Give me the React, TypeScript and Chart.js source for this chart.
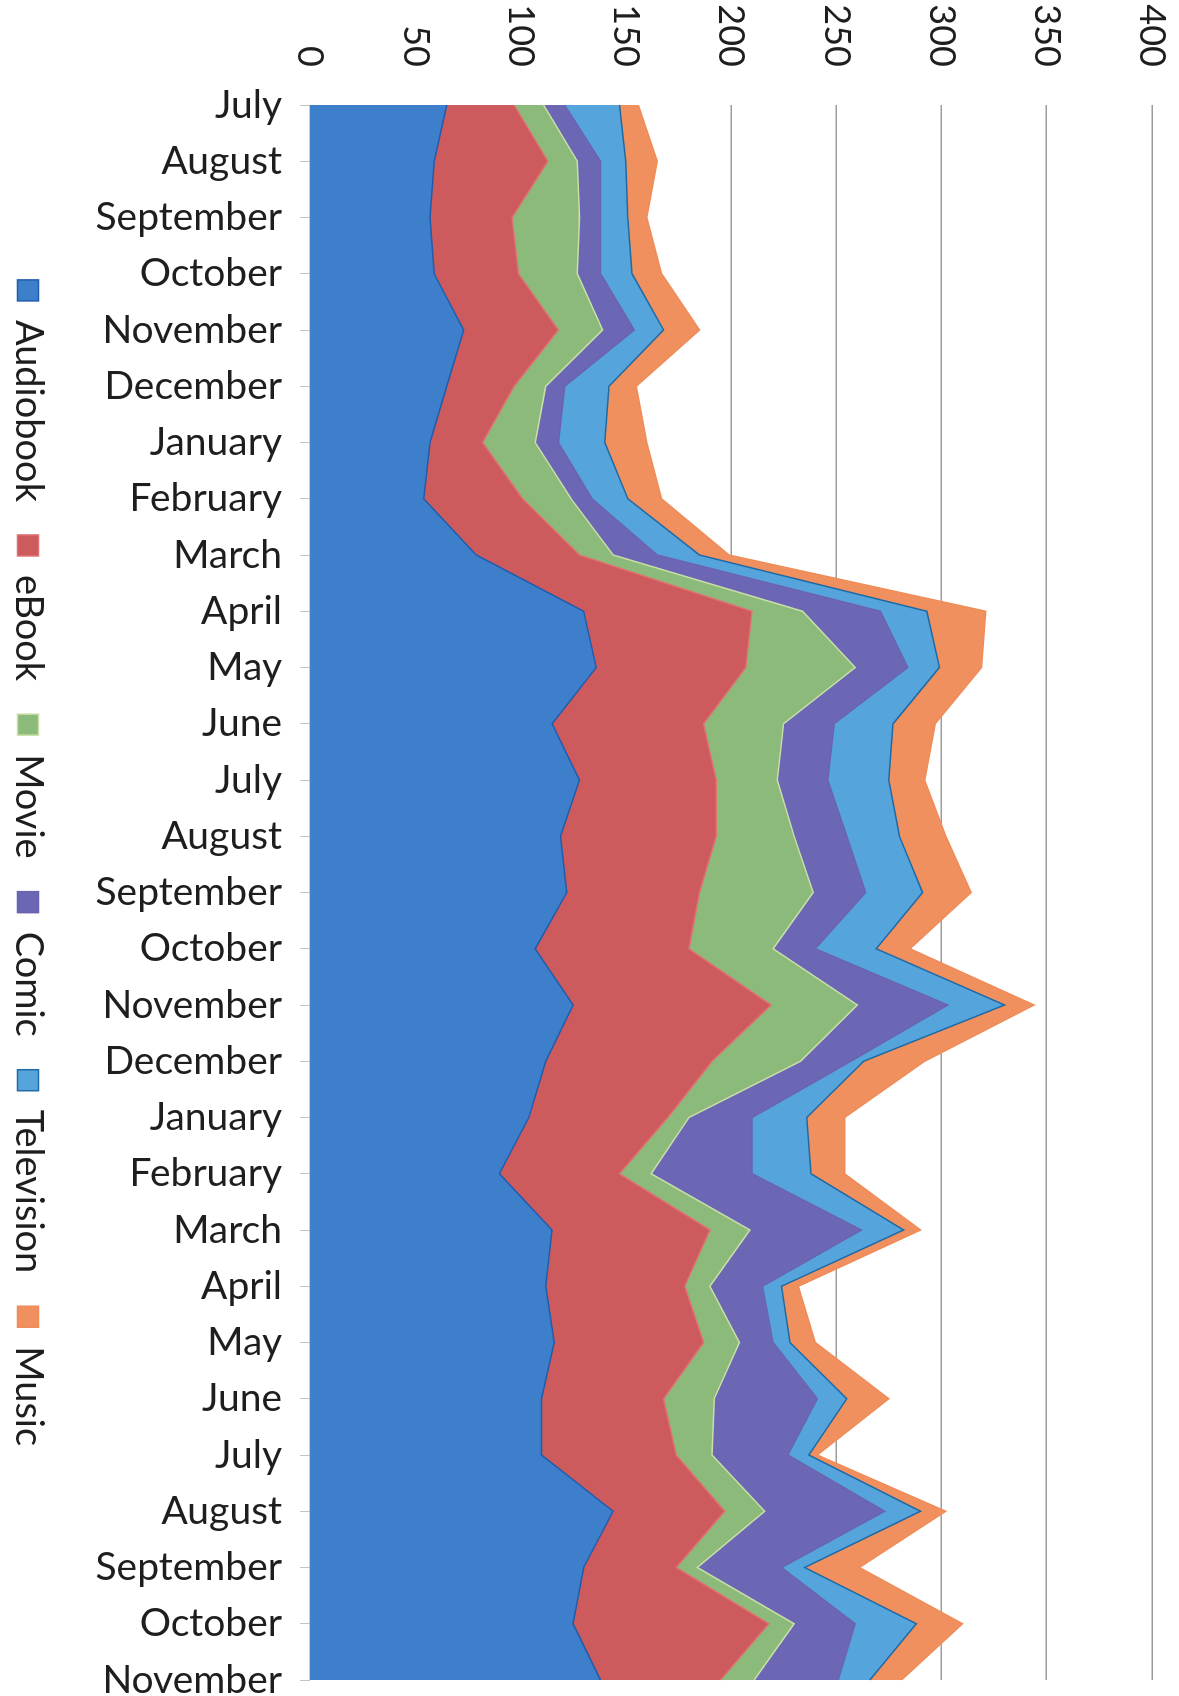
import React, { useEffect, useRef } from 'react';
import { Chart, registerables } from 'chart.js';

Chart.register(...registerables);

const months = [
  'July', 'August', 'September', 'October', 'November', 'December',
  'January', 'February', 'March', 'April', 'May', 'June',
  'July', 'August', 'September', 'October', 'November', 'December',
  'January', 'February', 'March', 'April', 'May', 'June',
  'July', 'August', 'September', 'October', 'November',
];

const audiobook = [65, 59, 57, 59, 73, 65, 57, 54, 79, 130, 136, 115, 128, 119, 122, 107, 125, 112, 104, 90, 115, 112, 116, 110, 110, 144, 130, 125, 138];
const ebook = [32, 54, 39, 40, 45, 32, 25, 47, 49, 80, 71, 72, 65, 74, 63, 73, 94, 79, 66, 57, 75, 66, 71, 58, 64, 53, 44, 93, 57];
const movie = [14, 14, 32, 28, 21, 15, 25, 23, 16, 24, 52, 38, 29, 37, 54, 40, 41, 42, 10, 15, 19, 12, 17, 24, 17, 19, 10, 12, 16];
const comic = [10, 11, 10, 11, 15, 9, 11, 10, 21, 37, 25, 24, 24, 25, 25, 20, 43, 24, 30, 48, 53, 25, 16, 49, 36, 57, 40, 29, 40];
const television = [26, 12, 13, 15, 14, 21, 22, 17, 20, 22, 15, 28, 29, 25, 27, 29, 27, 6, 26, 28, 20, 9, 8, 14, 10, 17, 11, 29, 15];
const music = [9, 15, 9, 14, 17, 13, 20, 16, 14, 28, 20, 20, 17, 22, 23, 16, 14, 29, 18, 16, 8, 8, 12, 20, 4, 12, 26, 22, 15];

const seriesNames = ['Audiobook', 'eBook', 'Movie', 'Comic', 'Television', 'Music'];
const seriesValues = [audiobook, ebook, movie, comic, television, music];
const fillColors = ['#3d7fca', '#cd5b5e', '#8cba7b', '#6c67b5', '#55a5dc', '#f0905e'];
const edgeColors = ['#1f5cad', '#e07072', '#c9dfa6', '#6a63b2', '#1f6aa6', '#f08c58'];

const valueMin = 0;
const valueMax = 400;
const valueStep = 50;

// canvas is drawn upright, then turned a quarter turn clockwise
const PAGE_W = 1179;
const PAGE_H = 1696;
const LEGEND_SHIFT = 23;

const legendShift = {
  id: 'legendShift',
  afterLayout(chart: any) {
    const lg = chart.legend;
    if (lg) {
      lg.left += LEGEND_SHIFT;
      lg.right += LEGEND_SHIFT;
    }
  },
};

export default function App() {
  const canvasRef = useRef<HTMLCanvasElement>(null);

  useEffect(() => {
    const canvas = canvasRef.current;
    if (!canvas) return;
    const valueFont = { family: 'Lato', size: 36 };
    const catFont = { family: 'Lato', size: 39 };
    const legendFont = { family: 'Lato', size: 38 };
    const chart = new Chart(canvas, {
      type: 'line',
      data: {
        labels: months,
        datasets: seriesNames.map((name, i) => ({
          label: name,
          data: seriesValues[i],
          backgroundColor: fillColors[i],
          borderColor: edgeColors[i],
          borderWidth: 1.5,
          fill: i === 0 ? 'origin' : '-1',
          pointRadius: 0,
          tension: 0,
        })),
      },
      plugins: [legendShift],
      options: {
        responsive: false,
        animation: false,
        devicePixelRatio: 1,
        layout: { autoPadding: false, padding: { left: 0, right: 16, top: 27, bottom: 0 } },
        plugins: {
          legend: {
            position: 'bottom',
            maxHeight: 80,
            labels: {
              boxWidth: 21,
              boxHeight: 21,
              padding: 33,
              font: legendFont,
              color: '#1e1e1e',
            },
          },
          tooltip: { enabled: false },
        },
        scales: {
          x: {
            type: 'category',
            offset: false,
            grid: {
              drawOnChartArea: false,
              drawTicks: true,
              tickLength: 10,
              color: '#c4c4c4',
            },
            border: { display: false },
            ticks: {
              minRotation: 90,
              maxRotation: 90,
              autoSkip: false,
              padding: 18,
              font: catFont,
              color: '#1e1e1e',
            },
            afterFit: (scale: any) => {
              scale.height = 230;
              scale.paddingLeft = 0;
              scale.paddingRight = 0;
            },
          },
          y: {
            stacked: true,
            min: valueMin,
            max: valueMax,
            ticks: {
              stepSize: valueStep,
              padding: 38,
              font: valueFont,
              color: '#1e1e1e',
            },
            grid: {
              color: '#9c9c9c',
              lineWidth: 1.5,
              drawTicks: false,
            },
            border: { display: false },
            afterFit: (scale: any) => {
              scale.width = 105;
              scale.paddingTop = 0;
              scale.paddingBottom = 0;
            },
          },
        },
      },
    });
    return () => chart.destroy();
  }, []);

  return (
    <div
      style={{
        position: 'absolute',
        top: 0,
        left: 0,
        width: PAGE_W,
        height: PAGE_H,
        overflow: 'hidden',
        background: '#ffffff',
      }}
    >
      <div
        style={{
          position: 'absolute',
          top: 0,
          left: PAGE_W,
          width: PAGE_H,
          height: PAGE_W,
          transform: 'rotate(90deg)',
          transformOrigin: '0 0',
        }}
      >
        <canvas
          ref={canvasRef}
          width={PAGE_H}
          height={PAGE_W}
          style={{ width: PAGE_H, height: PAGE_W, display: 'block' }}
        />
      </div>
    </div>
  );
}
